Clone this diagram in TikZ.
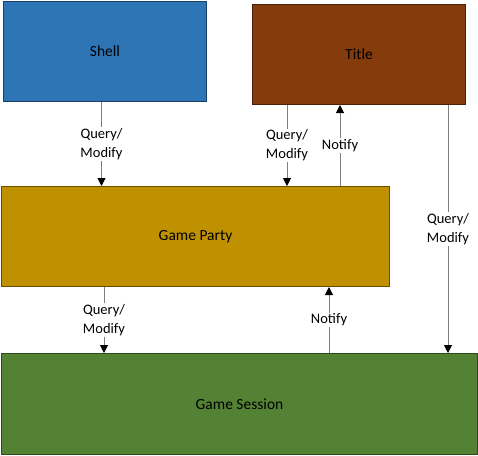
\documentclass[tikz,border=0pt]{standalone}
\usepackage{fontspec}
\setmainfont{Carlito}
\usetikzlibrary{arrows.meta,positioning}
\definecolor{shellblue}{HTML}{2E75B6}
\definecolor{titlebrown}{HTML}{843C0C}
\definecolor{partygold}{HTML}{BF9000}
\definecolor{sessiongreen}{HTML}{548235}
\definecolor{linegray}{HTML}{7F7F7F}

\begin{document}
\begin{tikzpicture}[x=1pt, y=-1pt, >=Stealth,
  box/.style={draw=#1!55!black, fill=#1, line width=1pt, anchor=north west, inner sep=0pt,
    font=\fontsize{15.5}{18}\selectfont},
  link/.style={draw=linegray, line width=1pt, -{Triangle[length=8pt, width=8pt, color=black, fill=black]}},
  lbl/.style={fill=white, inner sep=1pt, align=center, font=\fontsize{14.5}{19}\selectfont}]
  \useasboundingbox (0,0) rectangle (478,455);
  \node[box=shellblue, minimum width=203pt, minimum height=100pt] (shell) at (3,1) {Shell};
  \node[box=titlebrown, minimum width=213pt, minimum height=100pt] (title) at (252,4) {Title};
  \node[box=partygold, minimum width=388pt, minimum height=100pt] (party) at (1,186) {Game Party};
  \node[box=sessiongreen, minimum width=476pt, minimum height=101pt] (session) at (1,353) {Game Session};
  % shell and title talk to the party
  \draw[link] ([xshift=-3.5pt]shell.south) coordinate (s1) -- node[lbl] {Query/\\Modify} (s1 |- party.north);
  \draw[link] ([xshift=35pt]title.south west) coordinate (t1) -- node[lbl] {Query/\\Modify} (t1 |- party.north);
  \draw[link] ([xshift=-50pt]party.north east) coordinate (p1) -- node[lbl] {Notify} (p1 |- title.south);
  % down to the session
  \draw[link] ([xshift=-18pt]title.south east) coordinate (t2) -- node[lbl] {Query/\\Modify} (t2 |- session.north);
  \draw[link] ([xshift=103pt]party.south west) coordinate (p2) -- node[lbl] {Query/\\Modify} (p2 |- session.north);
  \draw[link] ([xshift=-61pt]party.south east |- session.north) coordinate (g1) -- node[lbl] {Notify} (g1 |- party.south);
\end{tikzpicture}
\end{document}
